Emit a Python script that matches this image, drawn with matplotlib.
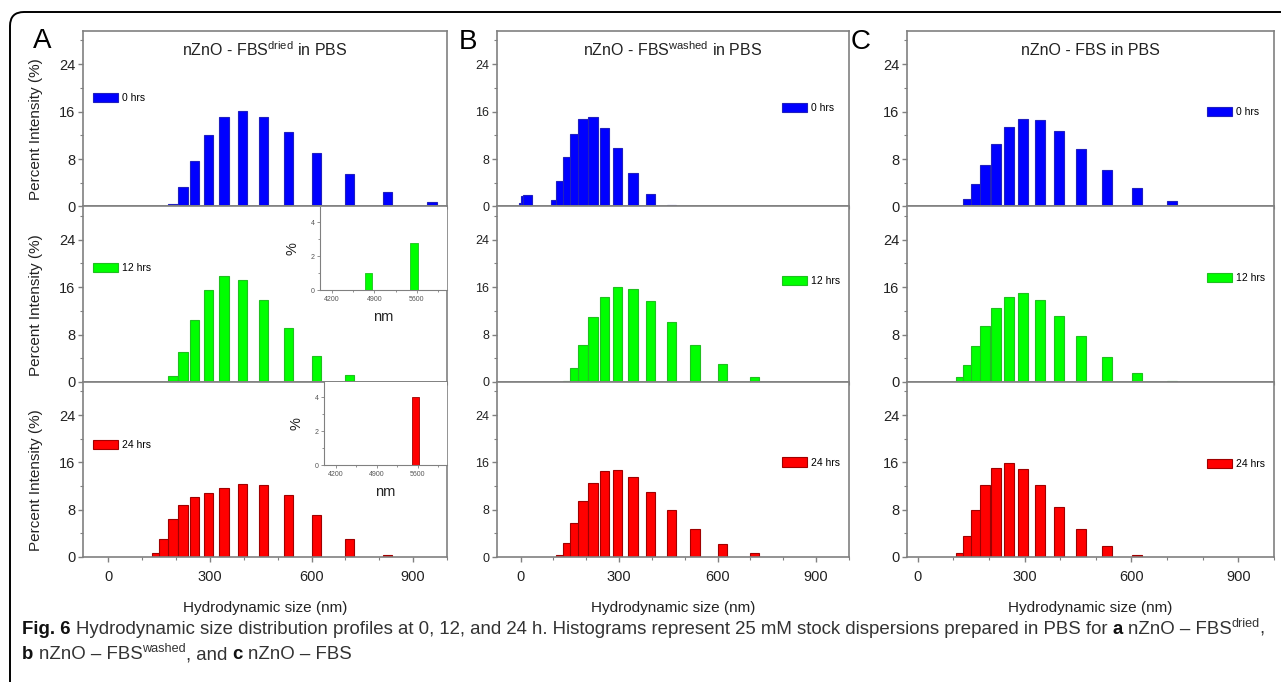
import numpy as np
import matplotlib
matplotlib.use("Agg")
import matplotlib.pyplot as plt
from matplotlib.patches import Patch, FancyBboxPatch
from matplotlib.ticker import MultipleLocator
from matplotlib import font_manager

W, H = 1281, 682

# --- data: hydrodynamic size bins (nm) and percent intensity ---
a0_nm = [190.1, 220.2, 255.0, 295.3, 342.0, 396.1, 458.7, 531.2, 615.1, 712.4, 825.0, 955.4]
a0_pct = [0.45, 3.3, 7.7, 12.0, 15.1, 16.1, 15.1, 12.5, 9.0, 5.5, 2.5, 0.8]
a12_nm = [190.1, 220.2, 255.0, 295.3, 342.0, 396.1, 458.7, 531.2, 615.1, 712.4]
a12_pct = [1.0, 5.0, 10.5, 15.5, 17.8, 17.2, 13.8, 9.1, 4.4, 1.1]
a24_nm = [141.8, 164.2, 190.1, 220.2, 255.0, 295.3, 342.0, 396.1, 458.7, 531.2, 615.1, 712.4, 825.0]
a24_pct = [0.6, 3.1, 6.4, 8.8, 10.1, 10.8, 11.6, 12.3, 12.2, 10.5, 7.1, 3.0, 0.3]

b0_nm = [8.721, 15.69, 21.04, 105.7, 122.4, 141.8, 164.2, 190.1, 220.2, 255.0, 295.3, 342.0, 396.1, 458.7]
b0_pct = [0.6, 1.8, 1.9, 1.1, 4.3, 8.3, 12.2, 14.7, 15.1, 13.3, 9.9, 5.6, 2.1, 0.2]
b12_nm = [141.8, 164.2, 190.1, 220.2, 255.0, 295.3, 342.0, 396.1, 458.7, 531.2, 615.1, 712.4]
b12_pct = [0.1, 2.3, 6.2, 10.9, 14.3, 16.0, 15.7, 13.6, 10.2, 6.3, 3.1, 0.9]
b24_nm = [122.4, 141.8, 164.2, 190.1, 220.2, 255.0, 295.3, 342.0, 396.1, 458.7, 531.2, 615.1, 712.4]
b24_pct = [0.35, 2.3, 5.7, 9.5, 12.6, 14.5, 14.7, 13.5, 11.0, 7.9, 4.8, 2.2, 0.65]

c0_nm = [122.4, 141.8, 164.2, 190.1, 220.2, 255.0, 295.3, 342.0, 396.1, 458.7, 531.2, 615.1, 712.4]
c0_pct = [0.1, 1.2, 3.8, 7.0, 10.5, 13.4, 14.8, 14.6, 12.7, 9.7, 6.1, 3.1, 0.9]
c12_nm = [122.4, 141.8, 164.2, 190.1, 220.2, 255.0, 295.3, 342.0, 396.1, 458.7, 531.2, 615.1, 712.4]
c12_pct = [0.85, 2.8, 6.0, 9.4, 12.5, 14.4, 15.0, 13.8, 11.2, 7.8, 4.3, 1.6, 0.2]
c24_nm = [122.4, 141.8, 164.2, 190.1, 220.2, 255.0, 295.3, 342.0, 396.1, 458.7, 531.2, 615.1]
c24_pct = [0.6, 3.6, 8.0, 12.2, 15.0, 15.9, 14.9, 12.2, 8.4, 4.8, 1.9, 0.35]

# large-aggregate insets in panel A
inset12_nm = [4801, 5560]
inset12_pct = [1.0, 2.8]
inset24_nm = [5560]
inset24_pct = [4.0]

times = ["0 hrs", "12 hrs", "24 hrs"]
titles = [r"nZnO - FBS$^{\mathrm{dried}}$ in PBS",
          r"nZnO - FBS$^{\mathrm{washed}}$ in PBS",
          "nZnO - FBS in PBS"]
panel_letters = ["A", "B", "C"]

series = [
    [(a0_nm, a0_pct), (a12_nm, a12_pct), (a24_nm, a24_pct)],
    [(b0_nm, b0_pct), (b12_nm, b12_pct), (b24_nm, b24_pct)],
    [(c0_nm, c0_pct), (c12_nm, c12_pct), (c24_nm, c24_pct)],
]

FACE = ["#0000ff", "#00ff00", "#ff0000"]
EDGE = ["#2020c0", "#20c020", "#a00000"]
SPINE = "#808080"
TXT = "#222222"

plt.rcParams["font.family"] = ["Liberation Sans", "DejaVu Sans"]
plt.rcParams["mathtext.fontset"] = "custom"
plt.rcParams["mathtext.rm"] = "Liberation Sans"
plt.rcParams["mathtext.it"] = "Liberation Sans:italic"
plt.rcParams["mathtext.bf"] = "Liberation Sans:bold"

names = {f.name for f in font_manager.fontManager.ttflist}
CAPFONT = "Liberation Sans Narrow" if "Liberation Sans Narrow" in names else "Liberation Sans"

fig = plt.figure(figsize=(W / 100, H / 100), dpi=100)


def fx(px):
    return px / W


def fy(px):
    return 1 - px / H


# column geometry in pixels (left, right) and xlim
cols = [(83, 447, (-75, 1000)), (497, 849, (-72, 1000)), (907, 1274, (-30, 1000))]
row_edges = [31, 206.5, 382, 557]
legend_pos = [
    [(0.027, 0.62), (0.027, 0.65), (0.027, 0.64)],
    [(0.81, 0.56), (0.81, 0.575), (0.81, 0.54)],
    [(0.817, 0.54), (0.817, 0.594), (0.817, 0.53)],
]
ytick_fs = [10.5, 9, 10.5]

axes_grid = []
for ci, (left, right, xlim) in enumerate(cols):
    col_axes = []
    for ri in range(3):
        top, bot = row_edges[ri], row_edges[ri + 1]
        ax = fig.add_axes([fx(left), fy(bot), fx(right - left), (bot - top) / H])
        xs, ys = series[ci][ri]
        ax.bar(xs, ys, width=28, color=FACE[ri], edgecolor=EDGE[ri], linewidth=0.8, zorder=2)
        ax.set_xlim(*xlim)
        ax.set_ylim(0, 29.6)
        ax.yaxis.set_major_locator(MultipleLocator(8))
        ax.yaxis.set_minor_locator(MultipleLocator(4))
        ax.xaxis.set_major_locator(MultipleLocator(300))
        ax.xaxis.set_minor_locator(MultipleLocator(100))
        ax.tick_params(which="both", direction="out", color=SPINE, labelcolor=TXT)
        ax.tick_params(which="major", length=3.5, width=1)
        ax.tick_params(which="minor", length=2, width=0.8)
        ax.tick_params(axis="y", labelsize=ytick_fs[ci], pad=2)
        ax.tick_params(axis="x", labelsize=10.5, pad=6)
        for s in ax.spines.values():
            s.set_color(SPINE)
            s.set_linewidth(1.2)
        if ri < 2:
            ax.tick_params(axis="x", labelbottom=False)
        else:
            ax.set_xlabel("Hydrodynamic size (nm)", fontsize=11, color=TXT)
            ax.xaxis.set_label_coords(0.5, -0.25)
        if ci == 0:
            ax.set_ylabel("Percent Intensity (%)", fontsize=11, color=TXT)
            ax.yaxis.set_label_coords(-0.11, 0.44)
        h = Patch(facecolor=FACE[ri], edgecolor=EDGE[ri], linewidth=0.8, label=times[ri])
        ax.legend(handles=[h], loc="center left", bbox_to_anchor=legend_pos[ci][ri],
                  frameon=False, fontsize=7.5, handlelength=2.4, handleheight=1.0,
                  borderpad=0, borderaxespad=0, handletextpad=0.4)
        if ri == 0:
            ax.text(0.5, 1 - 19 / 175, titles[ci], transform=ax.transAxes,
                    ha="center", va="center", fontsize=11.5, color=TXT)
        col_axes.append(ax)
    axes_grid.append(col_axes)

# panel letters
for letter, (px, py) in zip(panel_letters, [(42, 41), (468, 42), (861, 42)]):
    fig.text(fx(px), fy(py), letter, ha="center", va="center", fontsize=20, color="black")

# insets for panel A (12 h and 24 h)
inset_boxes = [(320, 207, 447, 290), (324, 382, 447, 465)]
inset_data = [(inset12_nm, inset12_pct, 1), (inset24_nm, inset24_pct, 2)]
for (l, t, r, b), (xs, ys, ri) in zip(inset_boxes, inset_data):
    iax = fig.add_axes([fx(l), fy(b), fx(r - l), (b - t) / H])
    iax.set_facecolor("white")
    iax.bar(xs, ys, width=130, color=FACE[ri], edgecolor=EDGE[ri], linewidth=0.6)
    iax.set_xlim(4000, 6100)
    iax.set_ylim(0, 4.9)
    iax.set_xticks([4200, 4900, 5600])
    iax.set_yticks([0, 2, 4])
    iax.xaxis.set_minor_locator(MultipleLocator(350))
    iax.yaxis.set_minor_locator(MultipleLocator(1))
    iax.tick_params(which="both", direction="out", color=SPINE, labelcolor="#555555",
                    labelsize=5, length=2, width=0.6, pad=2)
    iax.tick_params(which="minor", length=1.2)
    for side in ["top", "right"]:
        iax.spines[side].set_visible(False)
    for side in ["left", "bottom"]:
        iax.spines[side].set_color(SPINE)
        iax.spines[side].set_linewidth(0.8)
    iax.set_xlabel("nm", fontsize=10.5, color=TXT, labelpad=5)
    iax.set_ylabel("%", fontsize=10.5, color=TXT, labelpad=8)

# outer rounded frame
frame = FancyBboxPatch((0.10, -0.5), 13.5, 6.70 + 0.5, boxstyle="round,pad=0,rounding_size=0.14",
                       transform=fig.dpi_scale_trans, facecolor="none", edgecolor="black",
                       linewidth=1.4, zorder=0)
fig.patches.append(frame)

# caption, drawn as runs so bold and superscripts can mix
fig.canvas.draw()
renderer = fig.canvas.get_renderer()
CAP_FS = 13.4


def draw_runs(x, y, runs):
    for text, style in runs:
        if text == " ":
            x += CAP_FS * 0.28 * 100 / 72
            continue
        kw = dict(fontsize=CAP_FS, color="#333333", family=[CAPFONT, "DejaVu Sans"], va="baseline")
        yy = y
        if style == "bold":
            kw["fontweight"] = "bold"
            kw["color"] = "#111111"
        elif style == "sup":
            kw["fontsize"] = CAP_FS * 0.68
            yy = y - 7
        t = fig.text(fx(x), fy(yy), text, **kw)
        x += t.get_window_extent(renderer).width


draw_runs(22, 634, [
    ("Fig. 6", "bold"), (" ", None),
    ("Hydrodynamic size distribution profiles at 0, 12, and 24 h. Histograms represent 25 mM stock "
     "dispersions prepared in PBS for", "n"), (" ", None),
    ("a", "bold"), (" ", None), ("nZnO – FBS", "n"), ("dried", "sup"), (",", "n"),
])
draw_runs(22, 659, [
    ("b", "bold"), (" ", None), ("nZnO – FBS", "n"), ("washed", "sup"), (", and", "n"), (" ", None),
    ("c", "bold"), (" ", None), ("nZnO – FBS", "n"),
])

fig.savefig("out.png", dpi=100)
